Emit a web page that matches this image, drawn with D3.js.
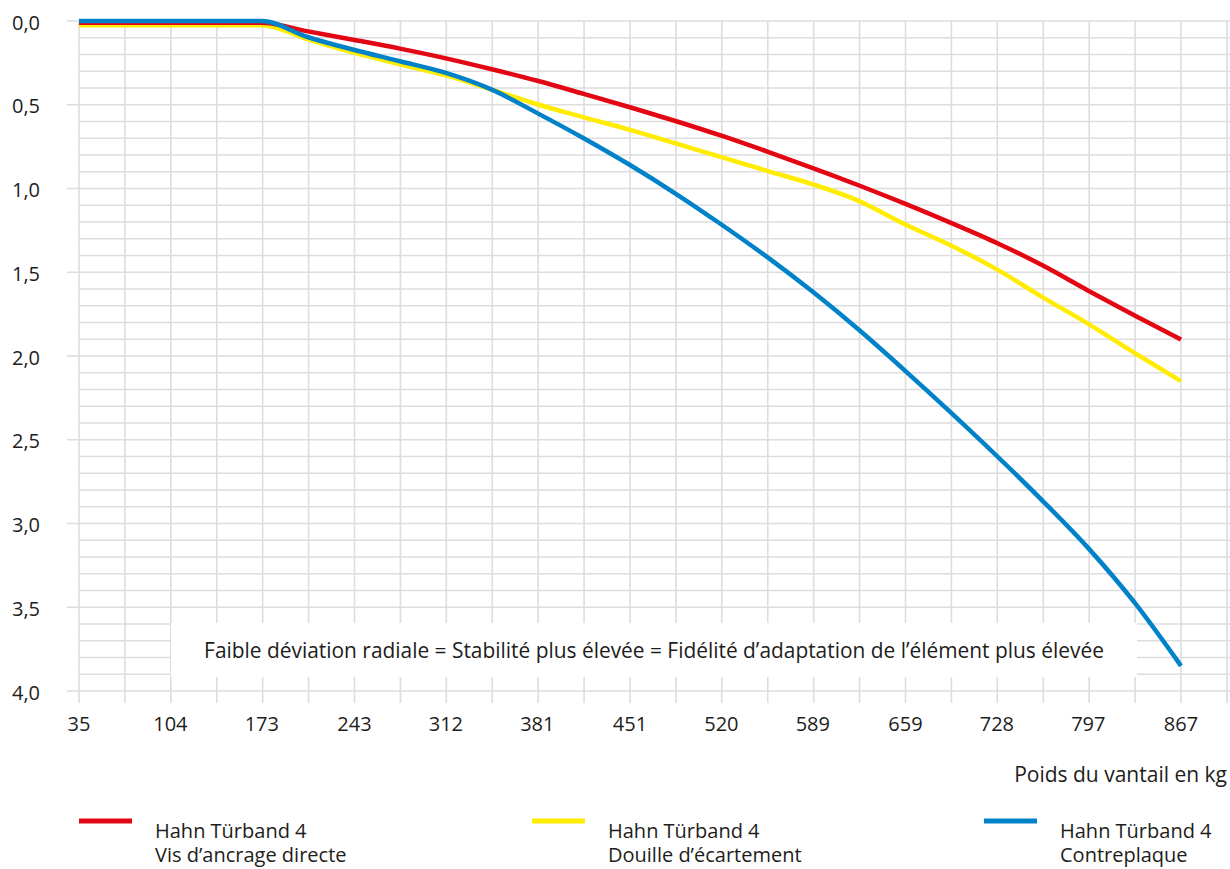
<!DOCTYPE html>
<html>
<head>
<meta charset="utf-8">
<script src="https://cdn.jsdelivr.net/npm/d3@7"></script>
<style>
  body { margin: 0; background: #fff; }
  svg { display: block; font-family: "Open Sans", sans-serif; }
</style>
</head>
<body>
<svg width="1230" height="869"></svg>
<script>
// weights in kg, one point every half tick step
const weights = [35, 69.7, 104, 138.7, 173, 208, 243, 277.3, 312, 346.7, 381, 416, 451,
    485.3, 520, 554.7, 589, 624, 659, 693.3, 728, 762.7, 797, 832, 867];

const directScrew = [0.01, 0.01, 0.01, 0.01, 0.01, 0.062, 0.113, 0.165, 0.223, 0.288, 0.357, 0.435, 0.515,
    0.597, 0.685, 0.78, 0.878, 0.982, 1.092, 1.205, 1.325, 1.46, 1.61, 1.758, 1.902];
const spacerSleeve = [0.025, 0.025, 0.025, 0.025, 0.025, 0.11, 0.19, 0.258, 0.325, 0.41, 0.497, 0.575, 0.65,
    0.73, 0.813, 0.895, 0.975, 1.075, 1.215, 1.34, 1.483, 1.65, 1.808, 1.982, 2.15];
const backPlate = [0, 0, 0, 0, 0, 0.097, 0.173, 0.24, 0.31, 0.41, 0.55, 0.7, 0.86,
    1.03, 1.215, 1.41, 1.617, 1.845, 2.09, 2.338, 2.597, 2.866, 3.147, 3.473, 3.85];

const xTickValues = [35, 104, 173, 243, 312, 381, 451, 520, 589, 659, 728, 797, 867];
const yTickValues = [0, 0.5, 1, 1.5, 2, 2.5, 3, 3.5, 4];

const seriesNames = ["Vis d’ancrage directe", "Douille d’écartement", "Contreplaque"];
const productName = "Hahn Türband 4";
const note = "Faible déviation radiale = Stabilité plus élevée = Fidélité d’adaptation de l’élément plus élevée";
const xTitle = "Poids du vantail en kg";

const svg = d3.select("svg");
const red = "#e30613", yellow = "#ffec00", blue = "#0082c9";
const gridColor = "#dddddd";
const textColor = "#1d1d1b";

const x = d3.scaleLinear().domain([35, 867]).range([79, 1181]);
const y = d3.scaleLinear().domain([0, 4]).range([21, 691]);
const halfStep = (867 - 35) / 24;

// grid
const grid = svg.append("g");
const vLines = d3.range(0, 26).map(i => 35 + i * halfStep);
grid.selectAll(".v").data(vLines).join("line")
    .attr("x1", d => x(d)).attr("x2", d => x(d))
    .attr("y1", y(0)).attr("y2", y(4) + 12)
    .attr("stroke", gridColor).attr("stroke-width", 1.6);

const hLines = d3.range(0, 41).map(i => i / 10);
grid.selectAll(".h").data(hLines).join("line")
    .attr("x1", (d, i) => i % 5 === 0 ? 67 : 79).attr("x2", 1230)
    .attr("y1", d => y(d)).attr("y2", d => y(d))
    .attr("stroke", gridColor).attr("stroke-width", 1.6);

// y labels
svg.append("g").selectAll("text").data(yTickValues).join("text")
    .attr("x", 40).attr("y", d => y(d) + 8.5)
    .attr("text-anchor", "end")
    .attr("font-size", 20).attr("fill", textColor)
    .text(d => d3.format(".1f")(d).replace(".", ","));

// x labels
svg.append("g").selectAll("text").data(xTickValues).join("text")
    .attr("x", d => x(d)).attr("y", 731)
    .attr("text-anchor", "middle")
    .attr("font-size", 20).attr("fill", textColor)
    .text(d => d);

svg.append("text")
    .attr("x", 1227).attr("y", 782)
    .attr("text-anchor", "end")
    .attr("font-size", 21).attr("fill", textColor)
    .text(xTitle);

// note box
svg.append("rect")
    .attr("x", 171).attr("y", 623).attr("width", 966).attr("height", 54)
    .attr("fill", "#fff");
svg.append("text")
    .attr("x", 654).attr("y", 658)
    .attr("text-anchor", "middle")
    .attr("font-size", 20.9).attr("fill", textColor)
    .text(note);

// lines
const line = d3.line()
    .x(d => x(d[0]))
    .y(d => y(d[1]))
    .curve(d3.curveMonotoneX);

const series = [
    { values: spacerSleeve, color: yellow },
    { values: directScrew, color: red },
    { values: backPlate, color: blue }
];
svg.append("g").selectAll("path").data(series).join("path")
    .attr("d", s => line(weights.map((w, i) => [w, s.values[i]])))
    .attr("fill", "none")
    .attr("stroke", s => s.color)
    .attr("stroke-width", 4.5);

// legend
const legend = [
    { name: seriesNames[0], color: red, x: 79 },
    { name: seriesNames[1], color: yellow, x: 532 },
    { name: seriesNames[2], color: blue, x: 984 }
];
const lg = svg.append("g").selectAll("g").data(legend).join("g")
    .attr("transform", d => `translate(${d.x},0)`);
lg.append("line")
    .attr("x1", 0).attr("x2", 53).attr("y1", 821).attr("y2", 821)
    .attr("stroke", d => d.color).attr("stroke-width", 5);
const lt = lg.append("text")
    .attr("y", 838)
    .attr("font-size", 20).attr("fill", textColor);
lt.append("tspan").attr("x", 76).text(productName);
lt.append("tspan").attr("x", 76).attr("dy", 24).text(d => d.name);
</script>
</body>
</html>
